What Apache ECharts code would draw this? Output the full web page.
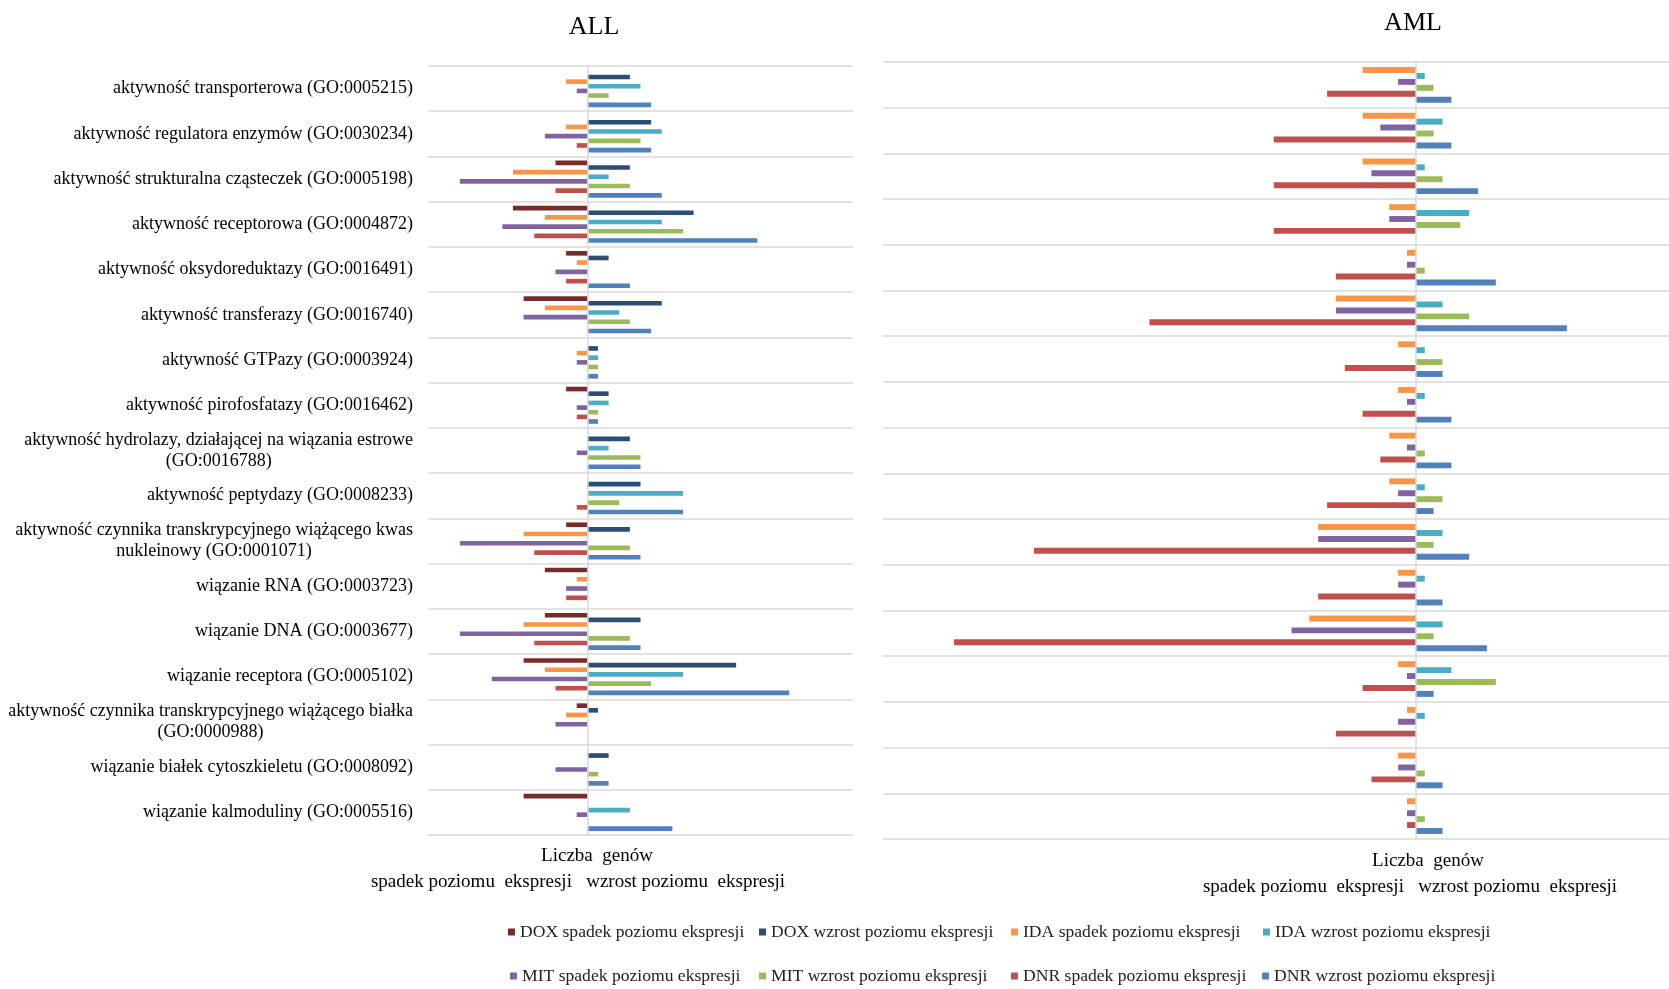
<!DOCTYPE html>
<html><head><meta charset="utf-8">
<script src="https://cdn.jsdelivr.net/npm/echarts@6/dist/echarts.min.js"></script>
<style>html,body{margin:0;padding:0;background:#fff}#c{width:1669px;height:989px}</style>
</head><body><div id="c"></div>
<script>
// ---------------- DATA ----------------
const categories = [
  "aktywność transporterowa (GO:0005215)",
  "aktywność regulatora enzymów (GO:0030234)",
  "aktywność strukturalna cząsteczek (GO:0005198)",
  "aktywność receptorowa (GO:0004872)",
  "aktywność oksydoreduktazy (GO:0016491)",
  "aktywność transferazy (GO:0016740)",
  "aktywność GTPazy (GO:0003924)",
  "aktywność pirofosfatazy (GO:0016462)",
  "aktywność hydrolazy, działającej na wiązania estrowe\n(GO:0016788)",
  "aktywność peptydazy (GO:0008233)",
  "aktywność czynnika transkrypcyjnego wiążącego kwas\nnukleinowy (GO:0001071)",
  "wiązanie RNA (GO:0003723)",
  "wiązanie DNA (GO:0003677)",
  "wiązanie receptora (GO:0005102)",
  "aktywność czynnika transkrypcyjnego wiążącego białka\n(GO:0000988)",
  "wiązanie białek cytoszkieletu (GO:0008092)",
  "wiązanie kalmoduliny (GO:0005516)"
];
const seriesNames = [
  "DOX spadek poziomu ekspresji", "DOX wzrost poziomu ekspresji",
  "IDA spadek poziomu ekspresji", "IDA wzrost poziomu ekspresji",
  "MIT spadek poziomu ekspresji", "MIT wzrost poziomu ekspresji",
  "DNR spadek poziomu ekspresji", "DNR wzrost poziomu ekspresji"
];
// ALL panel (spadek = negative)
const ALL_DOX_spadek = [0,0,-3,-7,-2,-6,0,-2,0,0,-2,-4,-4,-6,-1,0,-6];
const ALL_DOX_wzrost = [4,6,4,10,2,7,1,2,4,5,4,0,5,14,1,2,0];
const ALL_IDA_spadek = [-2,-2,-7,-4,-1,-4,-1,0,0,0,-6,-1,-6,-4,-2,0,0];
const ALL_IDA_wzrost = [5,7,2,7,0,3,1,2,2,9,0,0,0,9,0,0,4];
const ALL_MIT_spadek = [-1,-4,-12,-8,-3,-6,-1,-1,-1,0,-12,-2,-12,-9,-3,-3,-1];
const ALL_MIT_wzrost = [2,5,4,9,0,4,1,1,5,3,4,0,4,6,0,1,0];
const ALL_DNR_spadek = [0,-1,-3,-5,-2,0,0,-1,0,-1,-5,-2,-5,-3,0,0,0];
const ALL_DNR_wzrost = [6,6,7,16,4,6,1,1,5,9,5,0,5,19,0,2,8];
// AML panel
const AML_IDA_spadek = [-6,-6,-6,-3,-1,-9,-2,-2,-3,-3,-11,-2,-12,-2,-1,-2,-1];
const AML_IDA_wzrost = [1,3,1,6,0,3,1,1,0,1,3,1,3,4,1,0,0];
const AML_MIT_spadek = [-2,-4,-5,-3,-1,-9,0,-1,-1,-2,-11,-2,-14,-1,-2,-2,-1];
const AML_MIT_wzrost = [2,2,3,5,1,6,3,0,1,3,2,0,2,9,0,1,1];
const AML_DNR_spadek = [-10,-16,-16,-16,-9,-30,-8,-6,-4,-10,-43,-11,-52,-6,-9,-5,-1];
const AML_DNR_wzrost = [4,4,7,0,9,17,3,4,4,2,6,3,8,2,0,3,3];

const panelTitles = ["ALL", "AML"];
const axisTitle = "Liczba  genów";
const axisSubtitle = "spadek poziomu  ekspresji   wzrost poziomu  ekspresji";

// ---------------- STYLE ----------------
const FONT = '"Liberation Serif", "Times New Roman", serif';
const colors = ["#772C2A", "#2C4D75", "#F79646", "#4BACC6", "#8064A2", "#9BBB59", "#C0504D", "#4F81BD"];
const GRIDC = "#D9D9D9";

const chart = echarts.init(document.getElementById('c'), null, {renderer: 'canvas'});

function mkBar(nameIdx, data, gi, gap) {
  return {
    type: 'bar', name: seriesNames[nameIdx], data: data,
    xAxisIndex: gi, yAxisIndex: gi,
    barGap: '0%', barCategoryGap: gap,
    itemStyle: {color: colors[nameIdx]},
    silent: true, animation: false
  };
}
const zeroLine = {
  silent: true, symbol: 'none', label: {show: false},
  lineStyle: {color: GRIDC, width: 1.5, type: 'solid'},
  data: [{xAxis: 0}], animation: false
};

const allSeries = [
  mkBar(0, ALL_DOX_spadek, 0, '18%'), mkBar(1, ALL_DOX_wzrost, 0, '18%'),
  mkBar(2, ALL_IDA_spadek, 0, '18%'), mkBar(3, ALL_IDA_wzrost, 0, '18%'),
  mkBar(4, ALL_MIT_spadek, 0, '18%'), mkBar(5, ALL_MIT_wzrost, 0, '18%'),
  mkBar(6, ALL_DNR_spadek, 0, '18%'), mkBar(7, ALL_DNR_wzrost, 0, '18%')
];
allSeries[0].markLine = zeroLine;
const amlSeries = [
  mkBar(2, AML_IDA_spadek, 1, '22%'), mkBar(3, AML_IDA_wzrost, 1, '22%'),
  mkBar(4, AML_MIT_spadek, 1, '22%'), mkBar(5, AML_MIT_wzrost, 1, '22%'),
  mkBar(6, AML_DNR_spadek, 1, '22%'), mkBar(7, AML_DNR_wzrost, 1, '22%')
];
amlSeries[0].markLine = zeroLine;

function valueAxis(gi, min, max) {
  return {type: 'value', gridIndex: gi, min: min, max: max,
    axisLabel: {show: false}, axisLine: {show: false}, axisTick: {show: false}, splitLine: {show: false}};
}
function catAxis(gi, showLabels) {
  return {
    type: 'category', gridIndex: gi, data: categories, inverse: true,
    axisLine: {show: false, onZero: false}, axisTick: {show: false, interval: 0},
    splitLine: {show: true, interval: 0, lineStyle: {color: GRIDC, width: 1.5}},
    axisLabel: showLabels ? {
      show: true, interval: 0, margin: 15,
      formatter: function (v) { return v.split('\n').map(function (s) { return '{c|' + s + '}'; }).join('\n'); },
      rich: {c: {fontFamily: FONT, fontSize: 18, lineHeight: 21, color: '#000', align: 'center'}}
    } : {show: false}
  };
}
function txt(text, cx, top, size) {
  return {text: text, left: cx, top: top, textAlign: 'center', padding: 0,
    textStyle: {fontFamily: FONT, fontSize: size, fontWeight: 'normal', color: '#000'}};
}
// one legend component per item so the columns sit at fixed places
const legendLeft = [508, 759, 1011, 1263, 510, 759, 1011, 1262];
const legendTop = [923, 923, 923, 923, 967, 967, 967, 967];
function legendItem(i) {
  return {
    data: [seriesNames[i]], left: legendLeft[i], top: legendTop[i], padding: 0,
    icon: 'rect', itemWidth: 7, itemHeight: 7, selectedMode: false,
    textStyle: {fontFamily: FONT, fontSize: 17.6, color: '#222'}
  };
}

chart.setOption({
  animation: false,
  backgroundColor: '#fff',
  title: [
    txt(panelTitles[0], 594, 14, 26),
    txt(panelTitles[1], 1413, 10, 26),
    txt(axisTitle, 597, 847, 19),
    txt(axisSubtitle, 578, 873, 19),
    txt(axisTitle, 1428, 852, 19),
    txt(axisSubtitle, 1410, 878, 19)
  ],
  legend: seriesNames.map(function (n, i) { return legendItem(i); }),
  grid: [
    {left: 428, right: 1669 - 853, top: 66, bottom: 989 - 835},
    {left: 883, right: 0, top: 62, bottom: 989 - 839}
  ],
  xAxis: [valueAxis(0, -15, 25), valueAxis(1, -60, 28.5)],
  yAxis: [catAxis(0, true), catAxis(1, false)],
  series: allSeries.concat(amlSeries)
});
</script>
</body></html>
